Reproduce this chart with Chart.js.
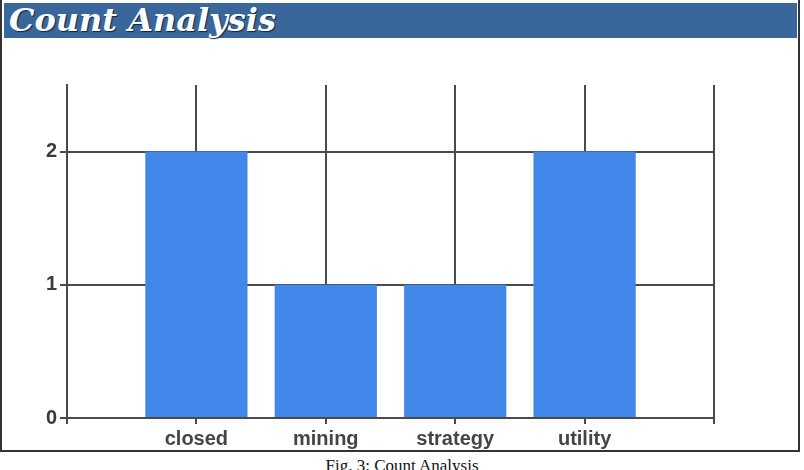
<!DOCTYPE html>
<html>
<head>
<meta charset="utf-8">
<script src="https://cdn.jsdelivr.net/npm/chart.js@4/dist/chart.umd.min.js"></script>
<style>
  body { margin: 0; width: 804px; height: 470px; background: #fff; position: relative; overflow: hidden; }
  #frame { position: absolute; left: 0; top: 0; width: 796px; height: 450px; border: 2px solid #333; border-top: none; }
  #title {
    position: absolute; left: 4px; top: 3px; width: 793px; height: 35px;
    background: #39679c; color: #fff;
    font-family: 'DejaVu Serif', serif; font-style: italic; font-weight: bold; font-size: 32px;
    line-height: 35px; padding-left: 5px; box-sizing: border-box;
    text-shadow: 1px 1px 1px #0f2440;
  }
  #caption {
    position: absolute; left: 0; top: 456px; width: 804px; text-align: center;
    font-family: 'Liberation Serif', 'Times New Roman', serif; font-size: 17px; color: #111;
  }
  #wrap { position: absolute; left: 0; top: 0; width: 804px; height: 470px; }
</style>
</head>
<body>
<div id="frame"></div>
<div id="title">Count Analysis</div>
<div id="caption">Fig. 3: Count Analysis</div>
<div id="wrap"><canvas id="myChart"></canvas></div>
<script>
'use strict';

let categories = ['closed', 'mining', 'strategy', 'utility'];
let counts = [2, 1, 1, 2];
let yTicks = [0, 1, 2];

// empty slot on each side so the grid has a line at both ends
let labels = [''].concat(categories, ['']);
let values = [null].concat(counts, [null]);

let gridColor = '#4a4a4a';
let tickFont = { family: 'Liberation Sans, Arial, sans-serif', size: 20, weight: 'bold' };

const config = {
  type: 'bar',
  data: {
    labels: labels,
    datasets: [
      {
        label: 'Count',
        data: values,
        backgroundColor: '#4287ea',
        borderWidth: 0,
        barPercentage: 1,
        categoryPercentage: 0.79,
      },
    ],
  },
  options: {
    responsive: false,
    animation: false,
    layout: { padding: { left: 0, right: 90, top: 85, bottom: 0 } },
    plugins: { legend: { display: false }, tooltip: { enabled: false } },
    scales: {
      x: {
        offset: false,
        grid: { offset: false, color: gridColor, lineWidth: 2, tickLength: 6, drawTicks: true },
        border: { color: gridColor, width: 2 },
        ticks: { color: '#454545', font: tickFont, padding: 3, maxRotation: 0, autoSkip: false },
        afterFit: function (scale) { scale.height = 52; },
      },
      y: {
        min: 0,
        max: 2.5,
        grid: { color: gridColor, lineWidth: 2, tickLength: 7 },
        border: { color: gridColor, width: 2 },
        ticks: { color: '#3a3a3a', font: tickFont, padding: 3, stepSize: 1 },
        afterBuildTicks: function (scale) {
          scale.ticks = yTicks.map(function (v) { return { value: v }; });
        },
        afterFit: function (scale) { scale.width = 67; },
      },
    },
  },
};

let chartCanvas = document.getElementById('myChart');
chartCanvas.width = 804;
chartCanvas.height = 470;
const myChart = new Chart(chartCanvas.getContext('2d'), config);
</script>
</body>
</html>
